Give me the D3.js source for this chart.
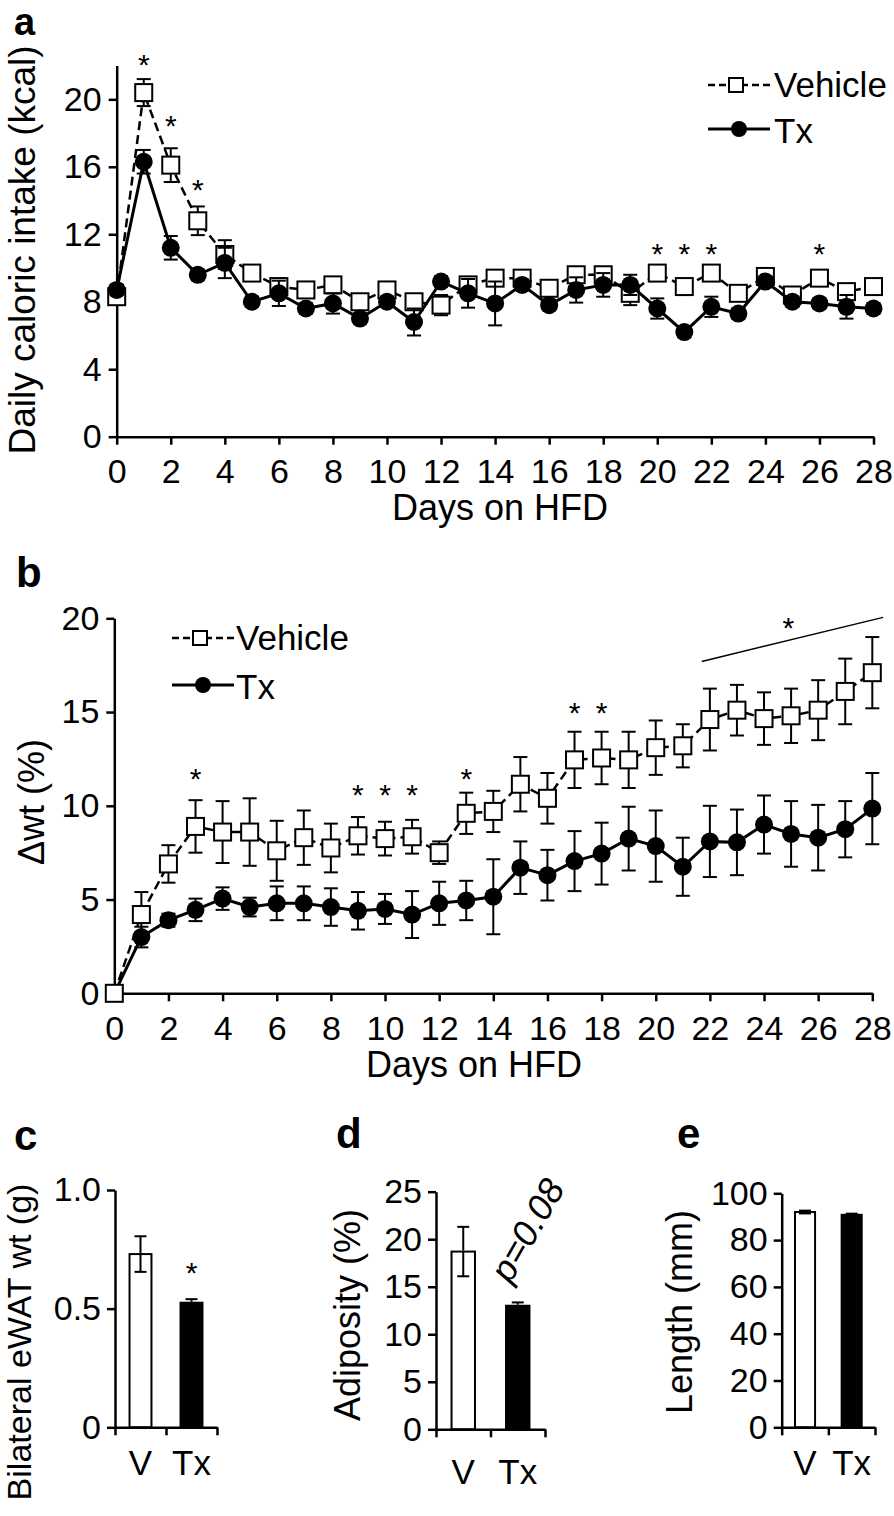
<!DOCTYPE html>
<html><head><meta charset="utf-8">
<script src="https://cdn.jsdelivr.net/npm/d3@7"></script>
<style>body{margin:0;background:#fff}</style>
</head><body>
<svg id="chart" width="894" height="1516" style="background:#fff"></svg>
<script>
// ---------------- DATA ----------------
const days = [0,1,2,3,4,5,6,7,8,9,10,11,12,13,14,15,16,17,18,19,20,21,22,23,24,25,26,27,28];
const dayTicks = [0,2,4,6,8,10,12,14,16,18,20,22,24,26,28];

// Panel a: daily caloric intake (kcal)
const intakeTicks = [0,4,8,12,16,20];
const intakeVehicle    = [8.3,20.4,16.1,12.8,10.8,9.7,8.9,8.7,9.0,8.0,8.7,8.0,7.8,9.0,9.4,9.4,8.8,9.6,9.6,8.5,9.7,8.9,9.7,8.5,9.5,8.4,9.4,8.6,8.9];
const intakeVehicleErr = [0.3,0.8,1.0,0.85,0.85,0.3,0.3,0.3,0.3,0.3,0.3,0.3,0.6,0.3,0.3,0.3,0.3,0.3,0.3,0.7,0.3,0.3,0.3,0.3,0.3,0.3,0.4,0.3,0.3];
const intakeTx         = [8.7,16.3,11.2,9.6,10.3,8.0,8.5,7.6,7.9,7.0,8.0,6.8,9.2,8.5,7.9,9.0,7.8,8.7,9.0,9.0,7.6,6.2,7.7,7.3,9.2,8.0,7.9,7.7,7.6];
const intakeTxErr      = [0.3,0.7,0.7,0.3,0.9,0.3,0.75,0.3,0.6,0.3,0.3,0.8,0.3,0.85,1.3,0.3,0.3,0.75,0.7,0.6,0.6,0.3,0.6,0.3,0.3,0.3,0.3,0.7,0.3];
const intakeStarDays = [1,2,3,20,21,22,26];
const intakeStarY    = [22.5,18.9,15.1,11.3,11.3,11.3,11.3];

// Panel b: body weight change (%)
const wtTicks = [0,5,10,15,20];
const wtVehicle    = [0,4.2,6.9,8.9,8.6,8.6,7.6,8.3,7.75,8.4,8.25,8.35,7.5,9.6,9.7,11.15,10.4,12.45,12.55,12.45,13.1,13.2,14.6,15.1,14.65,14.8,15.1,16.1,17.1];
const wtVehicleErr = [0,1.2,1.0,1.4,1.65,1.8,1.6,1.45,1.3,1.0,0.9,0.9,0.6,1.1,1.1,1.45,1.35,1.5,1.4,1.5,1.45,1.15,1.65,1.35,1.4,1.45,1.6,1.75,1.9];
const wtTx         = [0,3.0,3.9,4.45,5.05,4.6,4.8,4.8,4.6,4.4,4.5,4.2,4.8,4.95,5.15,6.7,6.3,7.05,7.45,8.25,7.85,6.75,8.1,8.05,9.0,8.5,8.3,8.75,9.85];
const wtTxErr      = [0,0.55,0.35,0.6,0.6,0.5,0.9,0.9,1.0,1.0,0.8,1.25,1.15,1.05,2.0,1.4,1.35,1.6,1.65,1.7,1.9,1.55,1.9,1.75,1.55,1.75,1.75,1.5,1.9];
const wtStarDays = [3,9,10,11,13,17,18];
const wtStarY    = [11.85,11.0,11.0,11.0,11.85,15.35,15.35];
const wtSigLineDays = [21.7,28.4];
const wtSigLineY    = [17.7,20.05];
const wtSigStar = [24.9,19.9];

// Panels c, d, e
const groups = ["V","Tx"];
const ewat = [0.73,0.525];       const ewatErr = [0.075,0.015];
const ewatTicks = [0,0.5,1.0];   const ewatTickLabels = ["0","0.5","1.0"];
const adiposity = [18.7,13.0];   const adiposityErr = [2.6,0.35];
const adipTicks = [0,5,10,15,20,25];
const lengthMm = [92.0,90.8];    const lengthErr = [0.6,0.5];
const lenTicks = [0,20,40,60,80,100];

// ---------------- DRAWING ----------------
const FONT = '"Liberation Sans", Arial, Helvetica, sans-serif';
const TICK_FS = 34;
const svg = d3.select("#chart");

function styleAxis(g, fs) {
  g.selectAll("path.domain").attr("stroke","#000").attr("stroke-width",2.5);
  g.selectAll(".tick line").attr("stroke","#000").attr("stroke-width",2.5);
  g.selectAll(".tick text").attr("font-size",fs).attr("font-family",FONT).attr("fill","#000");
}
function txt(x,y,s,opts={}) {
  const t = svg.append("text").attr("x",x).attr("y",y).text(s)
    .attr("font-family",FONT).attr("font-size",opts.fs||36).attr("fill","#000")
    .attr("text-anchor",opts.anchor||"start");
  if (opts.bold) t.attr("font-weight","bold");
  if (opts.italic) t.attr("font-style","italic");
  if (opts.rotate!==undefined) t.attr("transform",`rotate(${opts.rotate},${x},${y})`);
  return t;
}
function star(x,y,fs=30){ // y = visual centre
  svg.append("text").attr("x",x).attr("y",y+0.6*fs).attr("text-anchor","middle")
    .attr("font-family",FONT).attr("font-size",fs).text("*");
}

function series(g, x, y, vals, errs, type, cap, msize) {
  const pts = days.map((d,i)=>({d, v:vals[i], e:errs[i]}));
  const eb = g.append("g").attr("stroke","#000").attr("stroke-width",2);
  pts.forEach(p=>{
    if (!p.e) return;
    const cx = x(p.d), yt = y(p.v+p.e), yb = y(p.v-p.e);
    eb.append("line").attr("x1",cx).attr("x2",cx).attr("y1",yt).attr("y2",yb);
    eb.append("line").attr("x1",cx-cap).attr("x2",cx+cap).attr("y1",yt).attr("y2",yt);
    eb.append("line").attr("x1",cx-cap).attr("x2",cx+cap).attr("y1",yb).attr("y2",yb);
  });
  const line = d3.line().x(p=>x(p.d)).y(p=>y(p.v));
  g.append("path").datum(pts).attr("d",line).attr("fill","none").attr("stroke","#000")
    .attr("stroke-width", type==="square"?2.5:3)
    .attr("stroke-dasharray", type==="square"?"9,5":null);
  if (type==="square") {
    g.selectAll(null).data(pts).enter().append("rect")
      .attr("x",p=>x(p.d)-msize/2).attr("y",p=>y(p.v)-msize/2)
      .attr("width",msize).attr("height",msize)
      .attr("fill","#fff").attr("stroke","#000").attr("stroke-width",2);
  } else {
    g.selectAll(null).data(pts).enter().append("circle")
      .attr("cx",p=>x(p.d)).attr("cy",p=>y(p.v)).attr("r",msize/2).attr("fill","#000");
  }
}

function legend(x0, yV, yT, textX) {
  const g = svg.append("g");
  g.append("line").attr("x1",x0).attr("x2",x0+62).attr("y1",yV-12).attr("y2",yV-12)
    .attr("stroke","#000").attr("stroke-width",2.5).attr("stroke-dasharray","7,4");
  g.append("rect").attr("x",x0+28-7).attr("y",yV-12-7).attr("width",14).attr("height",14)
    .attr("fill","#fff").attr("stroke","#000").attr("stroke-width",2);
  g.append("line").attr("x1",x0).attr("x2",x0+62).attr("y1",yT-14).attr("y2",yT-14)
    .attr("stroke","#000").attr("stroke-width",3);
  g.append("circle").attr("cx",x0+31).attr("cy",yT-14).attr("r",8).attr("fill","#000");
  txt(textX, yV, "Vehicle", {fs:35});
  txt(textX, yT, "Tx", {fs:35});
}

// ---- Panel a ----
{
  const x = d3.scaleLinear().domain([0,28]).range([116.7,873.5]);
  const y = d3.scaleLinear().domain([0,22]).range([436.7,65.6]);
  const gx = svg.append("g").attr("transform",`translate(0,${y(0)})`)
    .call(d3.axisBottom(x).tickValues(dayTicks).tickSize(8).tickSizeOuter(0));
  styleAxis(gx,TICK_FS); gx.selectAll(".tick text").attr("y",46).attr("dy",0);
  const gy = svg.append("g").attr("transform",`translate(${x(0)},0)`)
    .call(d3.axisLeft(y).tickValues(intakeTicks).tickSize(8).tickPadding(7).tickSizeOuter(0));
  styleAxis(gy,TICK_FS);
  const g = svg.append("g");
  series(g, x, y, intakeVehicle, intakeVehicleErr, "square", 7, 17);
  series(g, x, y, intakeTx, intakeTxErr, "circle", 7, 18);
  intakeStarDays.forEach((d,i)=>star(x(d), y(intakeStarY[i])));
  txt(500, 520, "Days on HFD", {anchor:"middle"});
  txt(35, 250, "Daily caloric intake (kcal)", {anchor:"middle", rotate:-90, fs:37});
  txt(14, 35, "a", {bold:true, fs:38});
  legend(708, 97, 143, 774);
}

// ---- Panel b ----
{
  const x = d3.scaleLinear().domain([0,28]).range([114.3,872.3]);
  const y = d3.scaleLinear().domain([0,20]).range([993.3,618.3]);
  const gx = svg.append("g").attr("transform",`translate(0,${y(0)})`)
    .call(d3.axisBottom(x).tickValues(dayTicks).tickSize(8).tickSizeOuter(0));
  styleAxis(gx,TICK_FS); gx.selectAll(".tick text").attr("y",47).attr("dy",0);
  const gy = svg.append("g").attr("transform",`translate(${x(0)},0)`)
    .call(d3.axisLeft(y).tickValues(wtTicks).tickSize(8).tickPadding(7).tickSizeOuter(0));
  styleAxis(gy,TICK_FS);
  const g = svg.append("g");
  series(g, x, y, wtTx, wtTxErr, "circle", 7, 18);
  series(g, x, y, wtVehicle, wtVehicleErr, "square", 7, 17);
  wtStarDays.forEach((d,i)=>star(x(d), y(wtStarY[i])));
  svg.append("line").attr("x1",x(wtSigLineDays[0])).attr("x2",x(wtSigLineDays[1]))
    .attr("y1",y(wtSigLineY[0])).attr("y2",y(wtSigLineY[1])).attr("stroke","#000").attr("stroke-width",1.5);
  star(x(wtSigStar[0]), y(wtSigStar[1]));
  txt(474, 1077, "Days on HFD", {anchor:"middle"});
  txt(44, 802, "\u0394wt (%)", {anchor:"middle", rotate:-90, fs:36});
  txt(16, 587, "b", {bold:true, fs:42});
  legend(172, 650, 699, 236);
}

// ---- Bar panels ----
function barPanel(o) {
  const x = d3.scaleBand().domain(groups).range([o.x0,o.x1]);
  const xl = d3.scaleLinear().domain([0,2]).range([o.x0,o.x1]);
  const y = d3.scaleLinear().domain([0,o.max]).range([o.y0,o.yTop]);
  const bw = x.step()*0.43;
  const g = svg.append("g");
  groups.forEach((k,i)=>{
    const v = o.vals[i], e = o.errs[i];
    const cx = x(k)+x.bandwidth()/2;
    g.append("rect").attr("x",cx-bw/2).attr("y",y(v)).attr("width",bw).attr("height",y(0)-y(v))
      .attr("fill", i===0?"#fff":"#000").attr("stroke","#000").attr("stroke-width",2);
    const eg = g.append("g").attr("stroke","#000").attr("stroke-width",2);
    eg.append("line").attr("x1",cx).attr("x2",cx).attr("y1",y(v+e)).attr("y2",y(v)-1);
    eg.append("line").attr("x1",cx-6).attr("x2",cx+6).attr("y1",y(v+e)).attr("y2",y(v+e));
    if (i===0) {
      eg.append("line").attr("x1",cx).attr("x2",cx).attr("y1",y(v)).attr("y2",y(v-e));
      eg.append("line").attr("x1",cx-6).attr("x2",cx+6).attr("y1",y(v-e)).attr("y2",y(v-e));
    }
  });
  const gx = svg.append("g").attr("transform",`translate(0,${o.y0})`)
    .call(d3.axisBottom(xl).tickValues([0,1,2]).tickFormat("").tickSize(8).tickSizeOuter(0));
  styleAxis(gx,TICK_FS);
  const gy = svg.append("g").attr("transform",`translate(${o.x0},0)`)
    .call(d3.axisLeft(y).tickValues(o.ticks).tickFormat((d,i)=>o.labels?o.labels[i]:d)
      .tickSize(8).tickPadding(6).tickSizeOuter(0));
  styleAxis(gy,TICK_FS);
  groups.forEach(k=>txt(x(k)+x.bandwidth()/2, o.y0+o.catDy, k, {anchor:"middle", fs:35}));
  return {x,y};
}

{
  const p = barPanel({x0:115,x1:217,y0:1427.3,yTop:1190,max:1.0,vals:ewat,errs:ewatErr,
    ticks:ewatTicks,labels:ewatTickLabels,catDy:48});
  star(p.x("Tx")+p.x.bandwidth()/2, 1265);
  txt(31, 1342, "Bilateral eWAT wt (g)", {anchor:"middle", rotate:-90, fs:34});
  txt(14, 1150, "c", {bold:true, fs:42});
}
{
  const p = barPanel({x0:436,x1:545,y0:1429.3,yTop:1191.7,max:25,vals:adiposity,errs:adiposityErr,
    ticks:adipTicks,catDy:55});
  txt(527, 1230, "p=0.08", {anchor:"middle", rotate:-60, fs:36, italic:true}).attr("dy","0.35em");
  txt(360, 1315, "Adiposity (%)", {anchor:"middle", rotate:-90, fs:36});
  txt(336, 1148, "d", {bold:true, fs:42});
}
{
  const p = barPanel({x0:781.7,x1:875,y0:1427.3,yTop:1193.3,max:100,vals:lengthMm,errs:lengthErr,
    ticks:lenTicks,catDy:48});
  txt(692, 1312, "Length (mm)", {anchor:"middle", rotate:-90, fs:36});
  txt(677, 1148, "e", {bold:true, fs:42});
}
</script>
</body></html>
